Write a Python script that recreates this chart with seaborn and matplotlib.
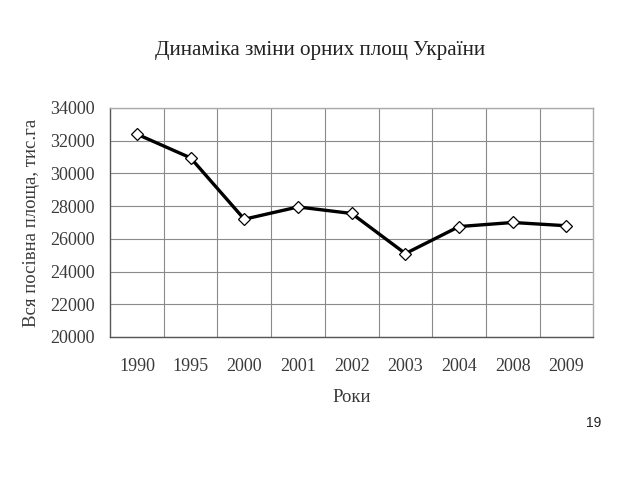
import matplotlib
matplotlib.use("Agg")
import matplotlib.pyplot as plt
import seaborn as sns
import pandas as pd
import numpy as np

years = ["1990", "1995", "2000", "2001", "2002", "2003", "2004", "2008", "2009"]
area = [32400, 30950, 27200, 27950, 27550, 25100, 26750, 27000, 26800]
yticks = [20000, 22000, 24000, 26000, 28000, 30000, 32000, 34000]

sns.set_style("white")
plt.rcParams['font.family'] = ['Liberation Serif', 'DejaVu Serif']

df = pd.DataFrame({"Роки": years, "area": area})

fig = plt.figure(figsize=(6.4, 4.8), dpi=100)
ax = fig.add_axes([0.172, 0.298, 0.755, 0.477])

sns.lineplot(data=df, x="Роки", y="area", ax=ax, color="black", linewidth=2.4,
             marker="D", markersize=6.5, markerfacecolor="white",
             markeredgecolor="black", markeredgewidth=0.9, sort=False)

n = len(years)
ax.set_xlim(-0.5, n - 0.5)
ax.set_ylim(yticks[0], yticks[-1])
ax.set_yticks(yticks)
ax.set_xticks(range(n))
ax.set_xticklabels(years)
ax.set_xticks(np.arange(0.5, n - 0.5, 1), minor=True)
ax.tick_params(axis="x", which="major", length=0, pad=15, labelsize=13, colors="#3a3a3a")
ax.tick_params(axis="x", which="minor", length=5, width=0.8, color="#666666", direction="out")
ax.tick_params(axis="y", which="major", length=5, width=0.8, color="#666666", direction="out",
               labelsize=13, labelcolor="#3a3a3a", pad=6)
ax.grid(False)
ax.grid(True, axis="y", which="major", color="#8a8a8a", linewidth=0.8)
ax.grid(True, axis="x", which="minor", color="#8a8a8a", linewidth=0.8)
ax.set_axisbelow(True)

for s in ["left", "bottom"]:
    ax.spines[s].set_color("#555555")
    ax.spines[s].set_linewidth(1.0)
for s in ["top", "right"]:
    ax.spines[s].set_color("#aaaaaa")
    ax.spines[s].set_linewidth(1.0)

ax.set_xlabel("Роки", fontsize=13.5, color="#3a3a3a", labelpad=10)
ax.set_ylabel("Вся посівна площа, тис.га", fontsize=13.5, color="#3a3a3a", labelpad=7)

fig.text(0.5, 0.895, "Динаміка зміни орних площ України", ha="center", va="center",
         fontsize=15.2, color="#222222")
fig.text(0.928, 0.118, "19", ha="center", va="center", fontsize=10,
         family=["Liberation Sans", "DejaVu Sans"], color="#222222")

fig.savefig("out.png", dpi=100)
